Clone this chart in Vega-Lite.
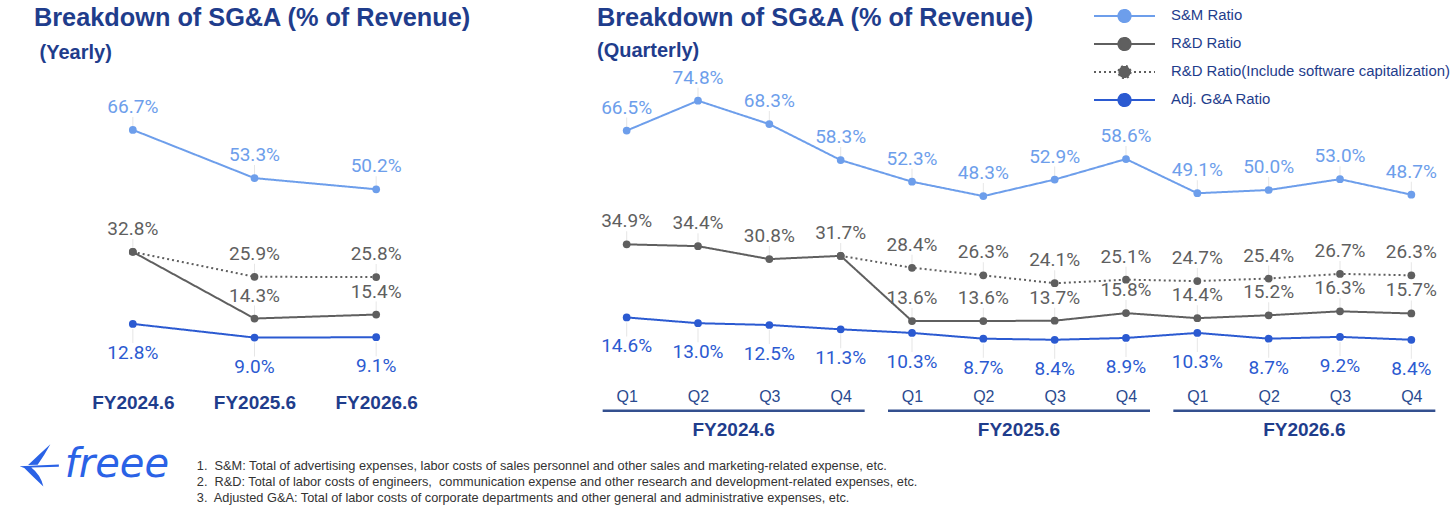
{
  "$schema": "https://vega.github.io/schema/vega-lite/v6.json",
  "background": "white",
  "padding": {"left": 19, "top": 5, "right": 4, "bottom": 4},
  "bounds": "flush",
  "spacing": 154,
  "config": {
    "view": {"stroke": null},
    "font": "Liberation Sans",
    "title": {
      "font": "Liberation Sans", "fontSize": 25.3, "fontWeight": "bold", "color": "#1f3d8c",
      "subtitleFont": "Liberation Sans", "subtitleFontSize": 20, "subtitleFontWeight": "bold",
      "subtitleColor": "#1f3d8c", "anchor": "start", "frame": "group"
    }
  },
  "datasets": {
    "yearly": [
      {"fy": "FY2024.6", "series": "S&M Ratio", "value": 66.7},
      {"fy": "FY2025.6", "series": "S&M Ratio", "value": 53.3},
      {"fy": "FY2026.6", "series": "S&M Ratio", "value": 50.2},
      {"fy": "FY2024.6", "series": "R&D Ratio", "value": 32.8},
      {"fy": "FY2025.6", "series": "R&D Ratio", "value": 14.3},
      {"fy": "FY2026.6", "series": "R&D Ratio", "value": 15.4},
      {"fy": "FY2024.6", "series": "R&D Ratio(Include software capitalization)", "value": 32.8},
      {"fy": "FY2025.6", "series": "R&D Ratio(Include software capitalization)", "value": 25.9},
      {"fy": "FY2026.6", "series": "R&D Ratio(Include software capitalization)", "value": 25.8},
      {"fy": "FY2024.6", "series": "Adj. G&A Ratio", "value": 12.8},
      {"fy": "FY2025.6", "series": "Adj. G&A Ratio", "value": 9.0},
      {"fy": "FY2026.6", "series": "Adj. G&A Ratio", "value": 9.1}
    ],
    "quarterly": [
      {"fy": "FY2024.6", "period": "FY2024.6 Q1", "series": "S&M Ratio", "value": 66.5},
      {"fy": "FY2024.6", "period": "FY2024.6 Q2", "series": "S&M Ratio", "value": 74.8},
      {"fy": "FY2024.6", "period": "FY2024.6 Q3", "series": "S&M Ratio", "value": 68.3},
      {"fy": "FY2024.6", "period": "FY2024.6 Q4", "series": "S&M Ratio", "value": 58.3},
      {"fy": "FY2025.6", "period": "FY2025.6 Q1", "series": "S&M Ratio", "value": 52.3},
      {"fy": "FY2025.6", "period": "FY2025.6 Q2", "series": "S&M Ratio", "value": 48.3},
      {"fy": "FY2025.6", "period": "FY2025.6 Q3", "series": "S&M Ratio", "value": 52.9},
      {"fy": "FY2025.6", "period": "FY2025.6 Q4", "series": "S&M Ratio", "value": 58.6},
      {"fy": "FY2026.6", "period": "FY2026.6 Q1", "series": "S&M Ratio", "value": 49.1},
      {"fy": "FY2026.6", "period": "FY2026.6 Q2", "series": "S&M Ratio", "value": 50.0},
      {"fy": "FY2026.6", "period": "FY2026.6 Q3", "series": "S&M Ratio", "value": 53.0},
      {"fy": "FY2026.6", "period": "FY2026.6 Q4", "series": "S&M Ratio", "value": 48.7},
      {"fy": "FY2024.6", "period": "FY2024.6 Q1", "series": "R&D Ratio", "value": 34.9},
      {"fy": "FY2024.6", "period": "FY2024.6 Q2", "series": "R&D Ratio", "value": 34.4},
      {"fy": "FY2024.6", "period": "FY2024.6 Q3", "series": "R&D Ratio", "value": 30.8},
      {"fy": "FY2024.6", "period": "FY2024.6 Q4", "series": "R&D Ratio", "value": 31.7},
      {"fy": "FY2025.6", "period": "FY2025.6 Q1", "series": "R&D Ratio", "value": 13.6},
      {"fy": "FY2025.6", "period": "FY2025.6 Q2", "series": "R&D Ratio", "value": 13.6},
      {"fy": "FY2025.6", "period": "FY2025.6 Q3", "series": "R&D Ratio", "value": 13.7},
      {"fy": "FY2025.6", "period": "FY2025.6 Q4", "series": "R&D Ratio", "value": 15.8},
      {"fy": "FY2026.6", "period": "FY2026.6 Q1", "series": "R&D Ratio", "value": 14.4},
      {"fy": "FY2026.6", "period": "FY2026.6 Q2", "series": "R&D Ratio", "value": 15.2},
      {"fy": "FY2026.6", "period": "FY2026.6 Q3", "series": "R&D Ratio", "value": 16.3},
      {"fy": "FY2026.6", "period": "FY2026.6 Q4", "series": "R&D Ratio", "value": 15.7},
      {"fy": "FY2024.6", "period": "FY2024.6 Q4", "series": "R&D Ratio(Include software capitalization)", "value": 31.7},
      {"fy": "FY2025.6", "period": "FY2025.6 Q1", "series": "R&D Ratio(Include software capitalization)", "value": 28.4},
      {"fy": "FY2025.6", "period": "FY2025.6 Q2", "series": "R&D Ratio(Include software capitalization)", "value": 26.3},
      {"fy": "FY2025.6", "period": "FY2025.6 Q3", "series": "R&D Ratio(Include software capitalization)", "value": 24.1},
      {"fy": "FY2025.6", "period": "FY2025.6 Q4", "series": "R&D Ratio(Include software capitalization)", "value": 25.1},
      {"fy": "FY2026.6", "period": "FY2026.6 Q1", "series": "R&D Ratio(Include software capitalization)", "value": 24.7},
      {"fy": "FY2026.6", "period": "FY2026.6 Q2", "series": "R&D Ratio(Include software capitalization)", "value": 25.4},
      {"fy": "FY2026.6", "period": "FY2026.6 Q3", "series": "R&D Ratio(Include software capitalization)", "value": 26.7},
      {"fy": "FY2026.6", "period": "FY2026.6 Q4", "series": "R&D Ratio(Include software capitalization)", "value": 26.3},
      {"fy": "FY2024.6", "period": "FY2024.6 Q1", "series": "Adj. G&A Ratio", "value": 14.6},
      {"fy": "FY2024.6", "period": "FY2024.6 Q2", "series": "Adj. G&A Ratio", "value": 13.0},
      {"fy": "FY2024.6", "period": "FY2024.6 Q3", "series": "Adj. G&A Ratio", "value": 12.5},
      {"fy": "FY2024.6", "period": "FY2024.6 Q4", "series": "Adj. G&A Ratio", "value": 11.3},
      {"fy": "FY2025.6", "period": "FY2025.6 Q1", "series": "Adj. G&A Ratio", "value": 10.3},
      {"fy": "FY2025.6", "period": "FY2025.6 Q2", "series": "Adj. G&A Ratio", "value": 8.7},
      {"fy": "FY2025.6", "period": "FY2025.6 Q3", "series": "Adj. G&A Ratio", "value": 8.4},
      {"fy": "FY2025.6", "period": "FY2025.6 Q4", "series": "Adj. G&A Ratio", "value": 8.9},
      {"fy": "FY2026.6", "period": "FY2026.6 Q1", "series": "Adj. G&A Ratio", "value": 10.3},
      {"fy": "FY2026.6", "period": "FY2026.6 Q2", "series": "Adj. G&A Ratio", "value": 8.7},
      {"fy": "FY2026.6", "period": "FY2026.6 Q3", "series": "Adj. G&A Ratio", "value": 9.2},
      {"fy": "FY2026.6", "period": "FY2026.6 Q4", "series": "Adj. G&A Ratio", "value": 8.4}
    ],
    "groups": [
      {"fy": "FY2024.6", "first": "FY2024.6 Q1", "last": "FY2024.6 Q4"},
      {"fy": "FY2025.6", "first": "FY2025.6 Q1", "last": "FY2025.6 Q4"},
      {"fy": "FY2026.6", "first": "FY2026.6 Q1", "last": "FY2026.6 Q4"}
    ],
    "notes": [
      {"fy": "FY2024.6", "note": "1.\u00a0 S&M: Total of advertising expenses, labor costs of sales personnel and other sales and marketing-related expense, etc.\n2.\u00a0 R&D: Total of labor costs of engineers,\u00a0 communication expense and other research and development-related expenses, etc.\n3.\u00a0 Adjusted G&A: Total of labor costs of corporate departments and other general and administrative expenses, etc."}
    ],
    "logo": [{"fy": "FY2024.6", "name": "freee"}]
  },
  "hconcat": [
    {
      "width": 365,
      "height": 288,
      "title": {"text": "Breakdown of SG&A (% of Revenue)", "subtitle": "\u200b\u00a0(Yearly)", "dx": -38, "offset": 19, "subtitlePadding": 12},
      "layer": [
        {
          "data": {"name": "yearly"},
          "transform": [{"filter": "datum.series != 'Adj. G&A Ratio' && (datum.series != 'R&D Ratio(Include software capitalization)' || datum.fy != 'FY2024.6')"}],
          "mark": {"type": "tick", "orient": "vertical", "size": 12, "thickness": 1, "color": "#dcdcdc", "yOffset": -7},
          "encoding": {
            "x": {"field": "fy", "type": "ordinal", "scale": {"type": "point", "padding": 0.5},
              "axis": {"title": null, "domain": false, "ticks": false, "grid": false, "labelAngle": 0, "labelPadding": 23,
                "labelFont": "Liberation Sans", "labelFontSize": 19, "labelFontWeight": "bold", "labelColor": "#1f3d8c"}},
            "y": {"field": "value", "type": "quantitative", "scale": {"domain": [0, 80]}, "axis": null}
          }
        },
        {
          "data": {"name": "yearly"},
          "transform": [{"filter": "datum.series == 'Adj. G&A Ratio'"}],
          "mark": {"type": "tick", "orient": "vertical", "size": 14, "thickness": 1, "color": "#dcdcdc", "yOffset": 12},
          "encoding": {
            "x": {"field": "fy", "type": "ordinal"},
            "y": {"field": "value", "type": "quantitative"}
          }
        },
        {
          "data": {"name": "yearly"},
          "mark": {"type": "line", "strokeWidth": 2},
          "encoding": {
            "x": {"field": "fy", "type": "ordinal"},
            "y": {"field": "value", "type": "quantitative"},
            "color": {"field": "series", "type": "nominal"},
            "strokeDash": {"field": "series", "type": "nominal"}
          }
        },
        {
          "data": {"name": "yearly"},
          "mark": {"type": "point", "filled": true, "size": 60, "opacity": 1},
          "encoding": {
            "x": {"field": "fy", "type": "ordinal"},
            "y": {"field": "value", "type": "quantitative"},
            "color": {"field": "series", "type": "nominal"}
          }
        },
        {
          "data": {"name": "yearly"},
          "transform": [
            {"filter": "datum.series != 'Adj. G&A Ratio' && (datum.series != 'R&D Ratio(Include software capitalization)' || datum.fy != 'FY2024.6')"},
            {"calculate": "format(datum.value, '.1f') + '%'", "as": "label"}
          ],
          "mark": {"type": "text", "dy": -17, "baseline": "alphabetic", "font": "Roboto", "fontSize": 19},
          "encoding": {
            "x": {"field": "fy", "type": "ordinal"},
            "y": {"field": "value", "type": "quantitative"},
            "text": {"field": "label"},
            "color": {"field": "series", "type": "nominal"}
          }
        },
        {
          "data": {"name": "yearly"},
          "transform": [
            {"filter": "datum.series == 'Adj. G&A Ratio'"},
            {"calculate": "format(datum.value, '.1f') + '%'", "as": "label"}
          ],
          "mark": {"type": "text", "dy": 35, "baseline": "alphabetic", "font": "Roboto", "fontSize": 19},
          "encoding": {
            "x": {"field": "fy", "type": "ordinal"},
            "y": {"field": "value", "type": "quantitative"},
            "text": {"field": "label"},
            "color": {"field": "series", "type": "nominal"}
          }
        },
        {
          "data": {"name": "logo"},
          "mark": {"type": "point", "filled": true, "opacity": 1, "color": "#2a62e6", "size": 1800, "xOffset": -92,
            "shape": "M-1,0.04 L0.85,-0.04 L0.85,0.06 L-0.45,0.1 Q0,0.45 0.12,1 Q-0.35,0.55 -0.78,0.12 Z M-0.6,-0.02 Q-0.05,-0.55 0.45,-1 Q0.15,-0.45 -0.15,-0.03 Z"},
          "encoding": {"x": {"field": "fy", "type": "ordinal"}, "y": {"datum": -26.5}}
        },
        {
          "data": {"name": "logo"},
          "mark": {"type": "text", "dx": -16, "baseline": "middle", "align": "center", "font": "DejaVu Sans", "fontStyle": "italic", "fontSize": 40, "color": "#2a62e6"},
          "encoding": {"x": {"field": "fy", "type": "ordinal"}, "y": {"datum": -26.5}, "text": {"field": "name"}}
        },
        {
          "data": {"name": "notes"},
          "mark": {"type": "text", "dx": 64, "align": "left", "baseline": "alphabetic", "lineBreak": "\n", "lineHeight": 16, "font": "Liberation Sans", "fontSize": 12.75, "color": "#333333"},
          "encoding": {"x": {"field": "fy", "type": "ordinal"}, "y": {"datum": -27.8}, "text": {"field": "note"}}
        }
      ]
    },
    {
      "width": 856,
      "height": 288,
      "title": {"text": "Breakdown of SG&A (% of Revenue)", "subtitle": "(Quarterly)", "dx": 6, "offset": 8, "subtitlePadding": 9},
      "layer": [
        {
          "layer": [
            {
              "data": {"name": "quarterly"},
              "transform": [{"filter": "datum.series != 'Adj. G&A Ratio' && (datum.series != 'R&D Ratio(Include software capitalization)' || datum.fy != 'FY2024.6')"}],
              "mark": {"type": "tick", "orient": "vertical", "size": 12, "thickness": 1, "color": "#dcdcdc", "yOffset": -7},
              "encoding": {
                "x": {"field": "period", "type": "ordinal", "scale": {"type": "point", "padding": 0.5},
                  "axis": {"title": null, "domain": false, "ticks": false, "grid": false, "labelAngle": 0, "labelPadding": 18,
                    "labelExpr": "split(datum.label, ' ')[1]",
                    "labelFont": "Liberation Sans", "labelFontSize": 16, "labelColor": "#2a4a8f"}},
                "y": {"field": "value", "type": "quantitative", "scale": {"domain": [0, 80]}, "axis": null}
              }
            },
            {
              "data": {"name": "quarterly"},
              "transform": [{"filter": "datum.series == 'Adj. G&A Ratio'"}],
              "mark": {"type": "tick", "orient": "vertical", "size": 14, "thickness": 1, "color": "#dcdcdc", "yOffset": 12},
              "encoding": {
                "x": {"field": "period", "type": "ordinal"},
                "y": {"field": "value", "type": "quantitative"}
              }
            },
            {
              "data": {"name": "groups"},
              "mark": {"type": "rule", "color": "#34508f", "strokeWidth": 2.5, "xOffset": -24, "x2Offset": 24},
              "encoding": {
                "x": {"field": "first", "type": "ordinal"},
                "x2": {"field": "last"},
                "y": {"datum": -11.3}
              }
            },
            {
              "data": {"name": "quarterly"},
              "mark": {"type": "line", "strokeWidth": 2},
              "encoding": {
                "x": {"field": "period", "type": "ordinal"},
                "y": {"field": "value", "type": "quantitative"},
                "color": {"field": "series", "type": "nominal",
                  "scale": {"domain": ["S&M Ratio", "R&D Ratio", "R&D Ratio(Include software capitalization)", "Adj. G&A Ratio"],
                    "range": ["#6d9eeb", "#5f5f5f", "#5f5f5f", "#2b5ad1"]},
                  "legend": {"title": null, "orient": "none", "legendX": 1021, "legendY": -76, "padding": 0,
                    "symbolType": "M-1,0L1,0M0.2,0A0.2,0.2,0,1,1,-0.2,0A0.2,0.2,0,1,1,0.2,0Z",
                    "symbolSize": 3721, "symbolStrokeWidth": 2, "clipHeight": 20, "rowPadding": 8, "labelOffset": 15,
                    "labelFont": "Liberation Sans", "labelFontSize": 14.9, "labelColor": "#1f3d8c", "labelLimit": 400,
                    "encode": {"symbols": {"update": {"fill": {"scale": "color", "field": "value"}, "stroke": {"scale": "color", "field": "value"}, "opacity": {"value": 1}}}}}},
                "strokeDash": {"field": "series", "type": "nominal",
                  "scale": {"domain": ["S&M Ratio", "R&D Ratio", "R&D Ratio(Include software capitalization)", "Adj. G&A Ratio"],
                    "range": [[1, 0], [1, 0], [2, 3], [1, 0]]},
                  "legend": {"title": null}}
              }
            },
            {
              "data": {"name": "quarterly"},
              "mark": {"type": "point", "filled": true, "size": 60, "opacity": 1},
              "encoding": {
                "x": {"field": "period", "type": "ordinal"},
                "y": {"field": "value", "type": "quantitative"},
                "color": {"field": "series", "type": "nominal"}
              }
            },
            {
              "data": {"name": "quarterly"},
              "transform": [
                {"filter": "datum.series != 'Adj. G&A Ratio' && (datum.series != 'R&D Ratio(Include software capitalization)' || datum.fy != 'FY2024.6')"},
                {"calculate": "format(datum.value, '.1f') + '%'", "as": "label"}
              ],
              "mark": {"type": "text", "dy": -17, "baseline": "alphabetic", "font": "Roboto", "fontSize": 19},
              "encoding": {
                "x": {"field": "period", "type": "ordinal"},
                "y": {"field": "value", "type": "quantitative"},
                "text": {"field": "label"},
                "color": {"field": "series", "type": "nominal"}
              }
            },
            {
              "data": {"name": "quarterly"},
              "transform": [
                {"filter": "datum.series == 'Adj. G&A Ratio'"},
                {"calculate": "format(datum.value, '.1f') + '%'", "as": "label"}
              ],
              "mark": {"type": "text", "dy": 35, "baseline": "alphabetic", "font": "Roboto", "fontSize": 19},
              "encoding": {
                "x": {"field": "period", "type": "ordinal"},
                "y": {"field": "value", "type": "quantitative"},
                "text": {"field": "label"},
                "color": {"field": "series", "type": "nominal"}
              }
            }
          ]
        },
        {
          "data": {"name": "groups"},
          "mark": {"type": "text", "baseline": "middle", "align": "center", "font": "Liberation Sans", "fontSize": 19, "fontWeight": "bold", "color": "#1f3d8c"},
          "encoding": {
            "x": {"field": "fy", "type": "nominal", "scale": {"type": "band", "paddingInner": 0, "paddingOuter": 0}, "axis": null},
            "y": {"datum": -16.7},
            "text": {"field": "fy"}
          }
        }
      ],
      "resolve": {"scale": {"x": "independent"}}
    }
  ]
}
